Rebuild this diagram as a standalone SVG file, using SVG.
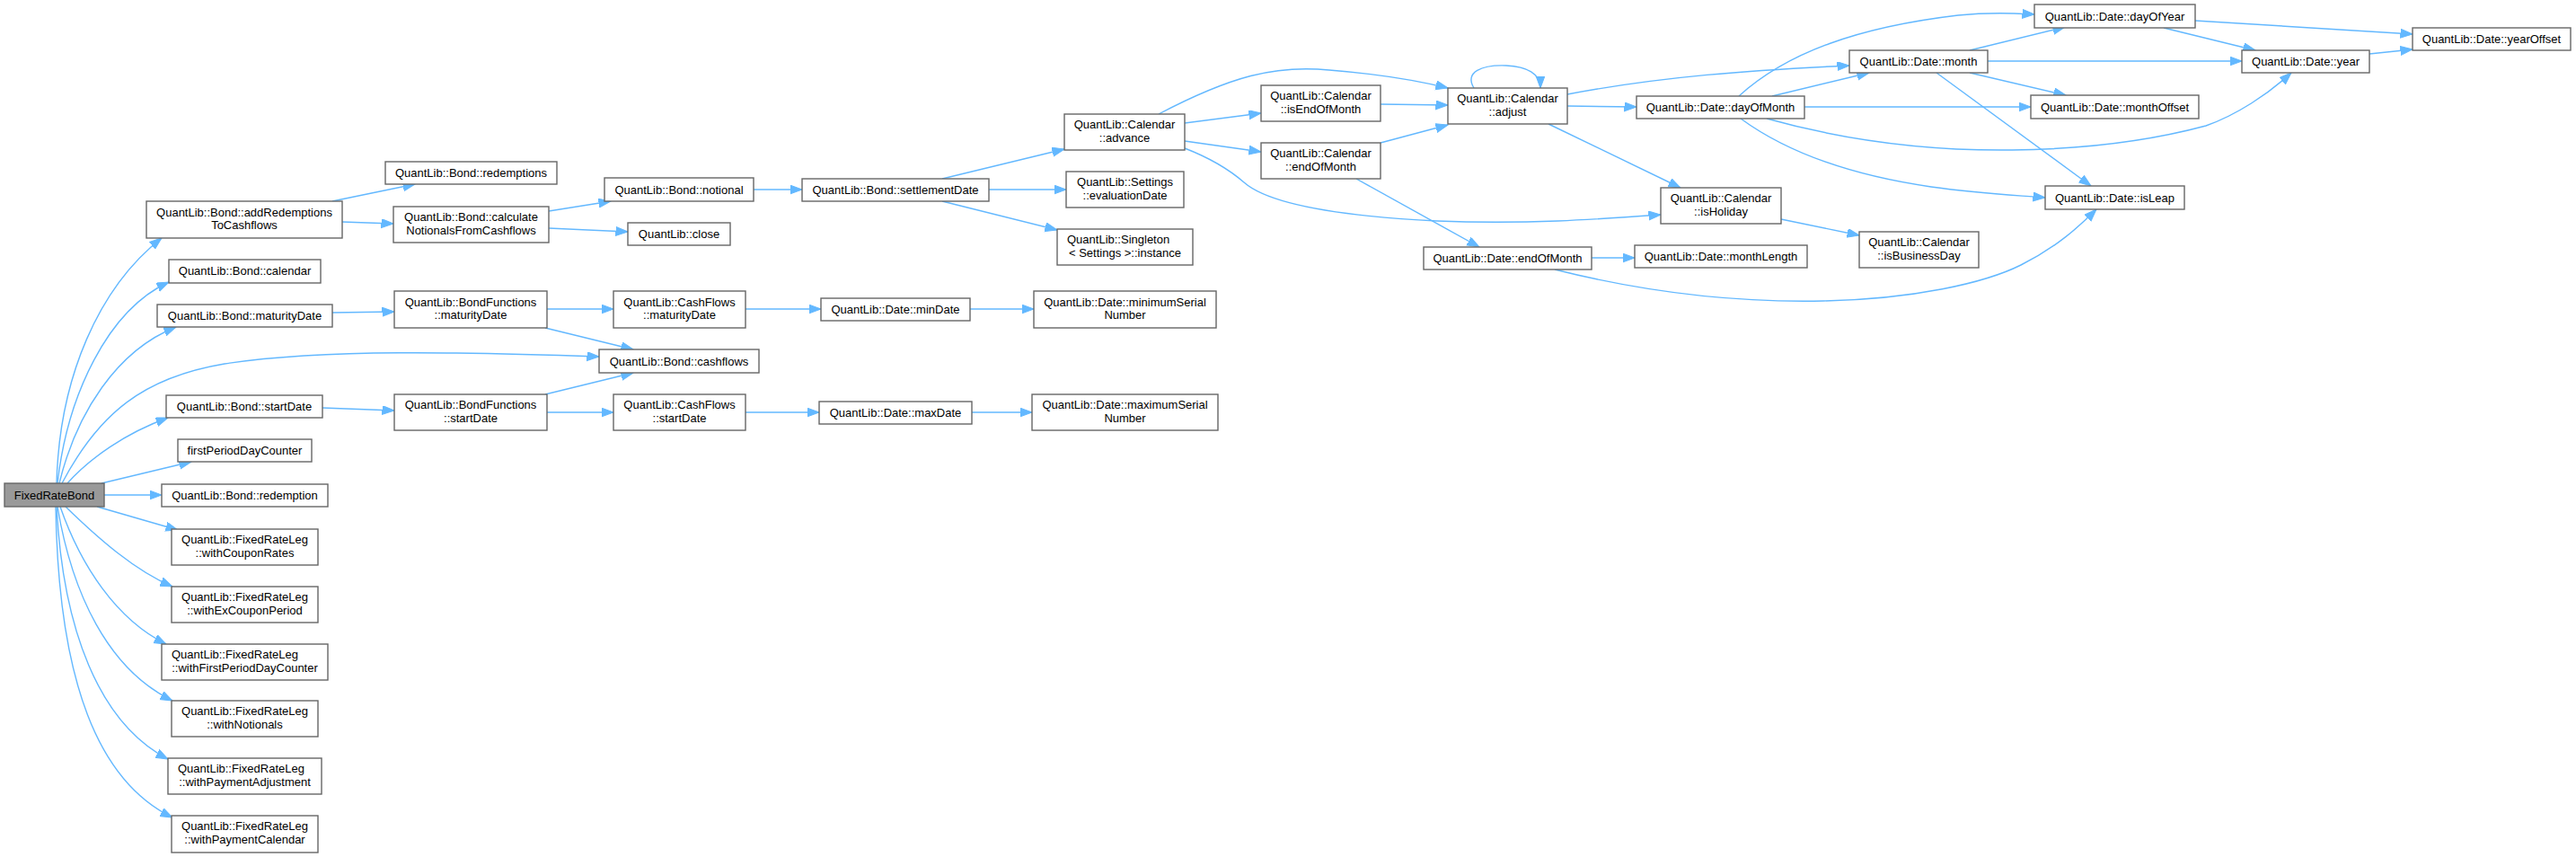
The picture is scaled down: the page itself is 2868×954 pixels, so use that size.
<svg xmlns="http://www.w3.org/2000/svg" width="2868" height="954" viewBox="0 0 2868 954">
<style>
.node rect{fill:#ffffff;stroke:#666666;stroke-width:1.4}
.root rect{fill:#999999;stroke:#666666;stroke-width:1.4}
text{font-family:"Liberation Sans",Arial,Helvetica,sans-serif;font-size:13px;fill:#000000;text-anchor:middle}
text.l{text-anchor:start}
.edges path{fill:none;stroke:#63b8ff;stroke-width:1.4;marker-end:url(#arr)}
</style>
<defs>
<marker id="arr" markerUnits="userSpaceOnUse" markerWidth="16" markerHeight="12" refX="13.5" refY="5" orient="auto">
<path d="M0,0 L13.5,5 L0,10 z" fill="#63b8ff" stroke="#63b8ff" stroke-width="1"/>
</marker>
</defs>
<rect width="2868" height="954" fill="#ffffff"/>
<g id="connectors" class="edges">
<path d="M63,538 C66,420 110,320 180,265"/>
<path d="M64,538 C75,440 120,345 188,314"/>
<path d="M66,538 C85,460 130,390 196,364"/>
<path d="M69,538 C110,460 160,420 250,405 C360,388 520,392 667,397"/>
<path d="M75,538 C100,510 140,482 187,465"/>
<path d="M113,538 L213,514"/>
<path d="M116,551 L180,551"/>
<path d="M108,564 L198,590"/>
<path d="M73,564 C110,600 150,635 192,653"/>
<path d="M67,564 C90,630 130,690 185,717"/>
<path d="M64,564 C80,660 120,745 192,780"/>
<path d="M63,564 C70,700 110,805 187,845"/>
<path d="M62,564 C65,760 110,870 192,910"/>
<path d="M370,224 L462,205"/>
<path d="M381,247 L438,249"/>
<path d="M611,235 L680,224"/>
<path d="M611,254 L699,258"/>
<path d="M839,211 L893,211"/>
<path d="M1049,199 L1185,166"/>
<path d="M1101,211 L1187,211"/>
<path d="M1049,224 L1177,256"/>
<path d="M370,348 L439,347"/>
<path d="M359,454 L439,457"/>
<path d="M609,344 L683,344"/>
<path d="M607,365 L705,389"/>
<path d="M607,439 L705,415"/>
<path d="M609,459 L683,459"/>
<path d="M830,344 L914,344"/>
<path d="M1080,344 L1151,344"/>
<path d="M830,459 L912,459"/>
<path d="M1082,459 L1149,459"/>
<path d="M1290,127 C1370,85 1420,72 1480,78 C1530,82 1575,89 1612,98"/>
<path d="M1319,137 L1404,126"/>
<path d="M1319,157 L1404,169"/>
<path d="M1319,165 C1350,177 1370,190 1385,203 C1410,225 1480,240 1600,246 C1700,250 1780,244 1849,239"/>
<path d="M1537,116 L1612,117"/>
<path d="M1537,159 L1612,139"/>
<path d="M1510,199 L1647,275"/>
<path d="M1641,98 C1630,80 1650,72 1677,73 C1700,74 1715,82 1715,98"/>
<path d="M1745,105 C1850,85 1950,78 2059,73"/>
<path d="M1745,118 L1822,119"/>
<path d="M1724,138 L1871,209"/>
<path d="M1936,107 C1990,58 2070,30 2180,17 C2220,13 2245,15 2265,16"/>
<path d="M1973,107 L2081,81"/>
<path d="M2009,119 L2261,119"/>
<path d="M1967,132 C2060,158 2150,168 2240,167 C2330,166 2400,155 2456,140 C2490,128 2525,105 2551,81"/>
<path d="M1938,132 C1990,170 2060,195 2150,208 C2200,215 2240,217 2277,220"/>
<path d="M2193,56 L2299,30"/>
<path d="M2213,68 L2496,68"/>
<path d="M2193,81 L2300,106"/>
<path d="M2156,81 L2328,207"/>
<path d="M2444,23 L2686,38"/>
<path d="M2409,31 L2511,56"/>
<path d="M2638,60 L2686,55"/>
<path d="M1983,244 L2070,262"/>
<path d="M1772,287 L1820,287"/>
<path d="M1731,300 C1830,325 1930,337 2030,335 C2130,333 2210,315 2250,295 C2290,275 2315,252 2334,233"/>
</g>
<g id="n_root" class="root"><rect x="5" y="538" width="111" height="26"/><text x="60.5" y="555.5">FixedRateBond</text></g>
<g id="n_addRed" class="node"><rect x="163" y="224" width="218" height="41"/><text x="272" y="240.5">QuantLib::Bond::addRedemptions</text><text x="272" y="255">ToCashflows</text></g>
<g id="n_calendar" class="node"><rect x="188" y="289" width="169" height="26"/><text x="272.5" y="306">QuantLib::Bond::calendar</text></g>
<g id="n_bmat" class="node"><rect x="175" y="339" width="195" height="25"/><text x="272.5" y="356">QuantLib::Bond::maturityDate</text></g>
<g id="n_bstart" class="node"><rect x="185" y="440" width="174" height="25"/><text x="272" y="457">QuantLib::Bond::startDate</text></g>
<g id="n_fpdc" class="node"><rect x="198" y="489" width="149" height="25"/><text x="272.5" y="506">firstPeriodDayCounter</text></g>
<g id="n_redemption" class="node"><rect x="180" y="539" width="185" height="25"/><text x="272.5" y="556">QuantLib::Bond::redemption</text></g>
<g id="n_wcr" class="node"><rect x="191" y="589" width="163" height="40"/><text x="272.5" y="605">QuantLib::FixedRateLeg</text><text x="272.5" y="619.7">::withCouponRates</text></g>
<g id="n_wecp" class="node"><rect x="191" y="653" width="163" height="40"/><text x="272.5" y="669">QuantLib::FixedRateLeg</text><text x="272.5" y="683.7">::withExCouponPeriod</text></g>
<g id="n_wfpdc" class="node"><rect x="180" y="717" width="185" height="40"/><text class="l" x="191" y="733">QuantLib::FixedRateLeg</text><text x="272.5" y="747.7">::withFirstPeriodDayCounter</text></g>
<g id="n_wn" class="node"><rect x="191" y="780" width="163" height="40"/><text x="272.5" y="796">QuantLib::FixedRateLeg</text><text x="272.5" y="810.7">::withNotionals</text></g>
<g id="n_wpa" class="node"><rect x="187" y="844" width="171" height="40"/><text class="l" x="198" y="860">QuantLib::FixedRateLeg</text><text x="272.5" y="874.7">::withPaymentAdjustment</text></g>
<g id="n_wpc" class="node"><rect x="191" y="908" width="163" height="41"/><text x="272.5" y="924">QuantLib::FixedRateLeg</text><text x="272.5" y="938.7">::withPaymentCalendar</text></g>
<g id="n_redemptions" class="node"><rect x="429" y="180" width="191" height="25"/><text x="524.5" y="197">QuantLib::Bond::redemptions</text></g>
<g id="n_calc" class="node"><rect x="438" y="230" width="173" height="40"/><text x="524.5" y="246">QuantLib::Bond::calculate</text><text x="524.5" y="260.7">NotionalsFromCashflows</text></g>
<g id="n_notional" class="node"><rect x="673" y="198" width="166" height="26"/><text x="756" y="215.5">QuantLib::Bond::notional</text></g>
<g id="n_close" class="node"><rect x="699" y="248" width="114" height="25"/><text x="756" y="265">QuantLib::close</text></g>
<g id="n_bfmat" class="node"><rect x="439" y="324" width="170" height="41"/><text x="524" y="340.5">QuantLib::BondFunctions</text><text x="524" y="355">::maturityDate</text></g>
<g id="n_cfmat" class="node"><rect x="683" y="324" width="147" height="41"/><text x="756.5" y="340.5">QuantLib::CashFlows</text><text x="756.5" y="355">::maturityDate</text></g>
<g id="n_cashflows" class="node"><rect x="667" y="389" width="178" height="26"/><text x="756" y="406.5">QuantLib::Bond::cashflows</text></g>
<g id="n_bfstart" class="node"><rect x="439" y="439" width="170" height="40"/><text x="524" y="455">QuantLib::BondFunctions</text><text x="524" y="469.7">::startDate</text></g>
<g id="n_cfstart" class="node"><rect x="683" y="439" width="147" height="40"/><text x="756.5" y="455">QuantLib::CashFlows</text><text x="756.5" y="469.7">::startDate</text></g>
<g id="n_settle" class="node"><rect x="893" y="199" width="208" height="25"/><text x="997" y="216">QuantLib::Bond::settlementDate</text></g>
<g id="n_advance" class="node"><rect x="1185" y="127" width="134" height="40"/><text x="1252" y="143">QuantLib::Calendar</text><text x="1252" y="157.7">::advance</text></g>
<g id="n_evald" class="node"><rect x="1187" y="191" width="131" height="40"/><text x="1252.5" y="207">QuantLib::Settings</text><text x="1252.5" y="221.7">::evaluationDate</text></g>
<g id="n_inst" class="node"><rect x="1177" y="255" width="151" height="40"/><text class="l" x="1188" y="271">QuantLib::Singleton</text><text x="1252.5" y="285.7">&lt; Settings &gt;::instance</text></g>
<g id="n_mindate" class="node"><rect x="914" y="332" width="166" height="25"/><text x="997" y="349">QuantLib::Date::minDate</text></g>
<g id="n_minsn" class="node"><rect x="1151" y="324" width="203" height="41"/><text x="1252.5" y="340.5">QuantLib::Date::minimumSerial</text><text x="1252.5" y="355">Number</text></g>
<g id="n_maxdate" class="node"><rect x="912" y="447" width="170" height="25"/><text x="997" y="464">QuantLib::Date::maxDate</text></g>
<g id="n_maxsn" class="node"><rect x="1149" y="439" width="207" height="40"/><text x="1252.5" y="455">QuantLib::Date::maximumSerial</text><text x="1252.5" y="469.7">Number</text></g>
<g id="n_iseom" class="node"><rect x="1404" y="95" width="133" height="40"/><text x="1470.5" y="111">QuantLib::Calendar</text><text x="1470.5" y="125.7">::isEndOfMonth</text></g>
<g id="n_ceom" class="node"><rect x="1404" y="159" width="133" height="40"/><text x="1470.5" y="175">QuantLib::Calendar</text><text x="1470.5" y="189.7">::endOfMonth</text></g>
<g id="n_adjust" class="node"><rect x="1612" y="98" width="133" height="40"/><text x="1678.5" y="114">QuantLib::Calendar</text><text x="1678.5" y="128.7">::adjust</text></g>
<g id="n_deom" class="node"><rect x="1585" y="275" width="187" height="25"/><text x="1678.5" y="292">QuantLib::Date::endOfMonth</text></g>
<g id="n_dom" class="node"><rect x="1822" y="107" width="187" height="25"/><text x="1915.5" y="124">QuantLib::Date::dayOfMonth</text></g>
<g id="n_month" class="node"><rect x="2059" y="56" width="154" height="25"/><text x="2136" y="73">QuantLib::Date::month</text></g>
<g id="n_isholiday" class="node"><rect x="1849" y="209" width="134" height="40"/><text x="1916" y="225">QuantLib::Calendar</text><text x="1916" y="239.7">::isHoliday</text></g>
<g id="n_monthlen" class="node"><rect x="1820" y="273" width="192" height="25"/><text x="1916" y="290">QuantLib::Date::monthLength</text></g>
<g id="n_isbd" class="node"><rect x="2070" y="258" width="133" height="40"/><text x="2136.5" y="274">QuantLib::Calendar</text><text x="2136.5" y="288.7">::isBusinessDay</text></g>
<g id="n_doy" class="node"><rect x="2265" y="5" width="179" height="26"/><text x="2354.5" y="22.5">QuantLib::Date::dayOfYear</text></g>
<g id="n_yearoff" class="node"><rect x="2686" y="31" width="176" height="25"/><text x="2774" y="48">QuantLib::Date::yearOffset</text></g>
<g id="n_year" class="node"><rect x="2496" y="56" width="142" height="25"/><text x="2567" y="73">QuantLib::Date::year</text></g>
<g id="n_monthoff" class="node"><rect x="2261" y="106" width="187" height="26"/><text x="2354.5" y="123.5">QuantLib::Date::monthOffset</text></g>
<g id="n_isleap" class="node"><rect x="2277" y="207" width="155" height="26"/><text x="2354.5" y="224.5">QuantLib::Date::isLeap</text></g>
</svg>
